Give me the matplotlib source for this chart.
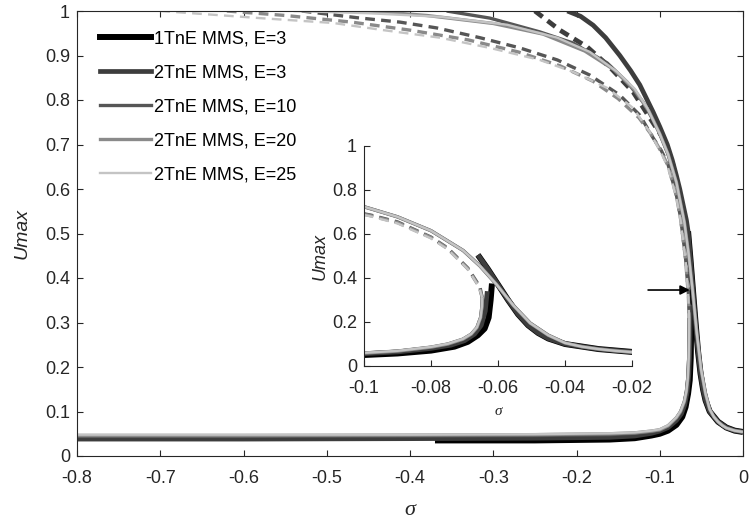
import matplotlib
matplotlib.use("Agg")
import matplotlib.pyplot as plt
from matplotlib.lines import Line2D

# ---- data ----
labels = ["1TnE MMS, E=3", "2TnE MMS, E=3", "2TnE MMS, E=10",
          "2TnE MMS, E=20", "2TnE MMS, E=25"]

# lower stable branch
lo_sig_1t = [-0.37, -0.25, -0.16, -0.13, -0.11, -0.1, -0.09, -0.08, -0.073,
             -0.069, -0.066, -0.064, -0.0628, -0.0622, -0.0618]
lo_u_1t = [0.035, 0.035, 0.037, 0.040, 0.046, 0.050, 0.057, 0.070, 0.088,
           0.110, 0.140, 0.170, 0.220, 0.300, 0.375]
lo_sig_e3 = [-0.8, -0.6, -0.4, -0.25, -0.16, -0.13, -0.11, -0.1, -0.09, -0.08,
             -0.074, -0.07, -0.067, -0.065, -0.0638, -0.0632]
lo_u_e3 = [0.038, 0.038, 0.039, 0.040, 0.042, 0.045, 0.051, 0.056, 0.064, 0.080,
           0.095, 0.115, 0.145, 0.185, 0.250, 0.340]
lo_sig = [-0.8, -0.6, -0.4, -0.25, -0.16, -0.13, -0.11, -0.1, -0.09, -0.08,
          -0.075, -0.0705, -0.068, -0.0663, -0.0652, -0.0648, -0.0647]
lo_u_e10 = [0.044, 0.044, 0.045, 0.046, 0.048, 0.051, 0.055, 0.058, 0.067, 0.085,
            0.099, 0.121, 0.144, 0.174, 0.220, 0.270, 0.310]
lo_u_e20 = [0.046, 0.046, 0.047, 0.048, 0.050, 0.052, 0.056, 0.059, 0.068, 0.086,
            0.100, 0.122, 0.145, 0.175, 0.220, 0.270, 0.310]
lo_u_e25 = [0.048, 0.048, 0.048, 0.049, 0.051, 0.053, 0.057, 0.060, 0.069, 0.087,
            0.101, 0.123, 0.146, 0.176, 0.221, 0.271, 0.310]

# unstable branch (dashed)
un_sig_e3 = [-0.25, -0.22, -0.187, -0.16, -0.132, -0.112, -0.096, -0.084, -0.078,
             -0.073, -0.069, -0.066, -0.064, -0.0625]
un_u_e3 = [1.0, 0.957, 0.919, 0.874, 0.818, 0.760, 0.714, 0.654, 0.595,
           0.540, 0.480, 0.430, 0.400, 0.375]
un_sig_e10 = [-0.53, -0.464, -0.412, -0.368, -0.316, -0.268, -0.223, -0.184, -0.148,
              -0.124, -0.108, -0.098, -0.09, -0.08, -0.075, -0.069, -0.0654, -0.0647]
un_u_e10 = [1.0, 0.985, 0.975, 0.962, 0.940, 0.917, 0.890, 0.856, 0.811,
            0.766, 0.715, 0.686, 0.655, 0.586, 0.536, 0.445, 0.360, 0.310]
un_sig_e20 = [-0.62, -0.55, -0.47, -0.40, -0.33, -0.27, -0.22, -0.18, -0.15,
              -0.125, -0.11, -0.098, -0.09, -0.08, -0.075, -0.069, -0.0656, -0.0647]
un_u_e20 = [1.0, 0.990, 0.975, 0.957, 0.935, 0.908, 0.877, 0.842, 0.803,
            0.760, 0.722, 0.683, 0.652, 0.584, 0.533, 0.442, 0.360, 0.310]
un_sig_e25 = [-0.70, -0.632, -0.58, -0.492, -0.432, -0.364, -0.304, -0.244, -0.204,
              -0.163, -0.132, -0.112, -0.098, -0.09, -0.08, -0.075, -0.069, -0.0657,
              -0.0647]
un_u_e25 = [1.0, 0.991, 0.984, 0.973, 0.957, 0.940, 0.917, 0.890, 0.863,
            0.827, 0.782, 0.728, 0.680, 0.648, 0.580, 0.530, 0.440, 0.360, 0.310]

# upper stable branch (solid), top part
up_sig_e3 = [-0.211, -0.195, -0.18, -0.165, -0.148, -0.135, -0.124, -0.108, -0.1,
             -0.091, -0.085, -0.08, -0.076, -0.072, -0.068]
up_u_e3 = [1.0, 0.988, 0.968, 0.940, 0.900, 0.866, 0.834, 0.773, 0.740,
           0.700, 0.665, 0.630, 0.600, 0.565, 0.530]
up_sig_e10 = [-0.356, -0.304, -0.244, -0.204, -0.163, -0.139, -0.12, -0.108]
up_u_e10 = [1.0, 0.984, 0.953, 0.928, 0.883, 0.840, 0.795, 0.755]
up_sig_e20 = [-0.45, -0.38, -0.30, -0.24, -0.19, -0.155, -0.13, -0.113]
up_u_e20 = [1.0, 0.990, 0.972, 0.948, 0.910, 0.868, 0.822, 0.775]
up_sig_e25 = [-0.54, -0.45, -0.364, -0.283, -0.223, -0.184, -0.151, -0.13, -0.115]
up_u_e25 = [1.0, 0.995, 0.987, 0.969, 0.940, 0.908, 0.863, 0.825, 0.782]

# peak and right-hand tail
tail_sig_e3 = [-0.066, -0.063, -0.06, -0.057, -0.054, -0.051, -0.048, -0.045,
               -0.04, -0.03, -0.02, -0.01, 0.0]
tail_u_e3 = [0.505, 0.440, 0.370, 0.300, 0.235, 0.185, 0.150, 0.125,
             0.100, 0.077, 0.064, 0.057, 0.054]
pk_sig = [-0.1, -0.09, -0.08, -0.0704, -0.0654, -0.0604, -0.0554, -0.0504, -0.045,
          -0.04, -0.035, -0.03, -0.025, -0.02, -0.01, 0.0]
pk_u = [0.724, 0.678, 0.615, 0.525, 0.455, 0.370, 0.275, 0.195, 0.140,
        0.105, 0.088, 0.077, 0.069, 0.063, 0.057, 0.054]

arrow_from = (-0.114, 0.373)
arrow_to = (-0.064, 0.373)

# ---- styles ----
colors = ["#000000", "#3d3d3d", "#565656", "#8a8a8a", "#c4c4c4"]
widths = [4.3, 3.4, 2.4, 2.4, 1.7]
axc = "#262626"

plt.rcParams["font.family"] = ["Liberation Sans", "DejaVu Sans"]
plt.rcParams["lines.scale_dashes"] = False
dash = (0, (7, 4.5))

series = [
    # lower, unstable, upper (top + peak/tail)
    ((lo_sig_1t, lo_u_1t), None, (tail_sig_e3, tail_u_e3)),
    ((lo_sig_e3, lo_u_e3), (un_sig_e3, un_u_e3),
     (up_sig_e3 + tail_sig_e3, up_u_e3 + tail_u_e3)),
    ((lo_sig, lo_u_e10), (un_sig_e10, un_u_e10),
     (up_sig_e10 + pk_sig, up_u_e10 + pk_u)),
    ((lo_sig, lo_u_e20), (un_sig_e20, un_u_e20),
     (up_sig_e20 + pk_sig, up_u_e20 + pk_u)),
    ((lo_sig, lo_u_e25), (un_sig_e25, un_u_e25),
     (up_sig_e25 + pk_sig, up_u_e25 + pk_u)),
]


def draw(ax, inset=False):
    for i, (lo, un, up) in enumerate(series):
        c, w = colors[i], widths[i]
        ax.plot(lo[0], lo[1], color=c, lw=w, solid_capstyle="butt")
        # in the inset the E=3 curves show only their lower part
        if un is not None and not (inset and i < 2):
            ax.plot(un[0], un[1], color=c, lw=w, linestyle=dash)
        s, u = up
        if inset and i < 2:
            s = [a for a, b in zip(up[0], up[1]) if b <= 0.51]
            u = [b for b in up[1] if b <= 0.51]
        ax.plot(s, u, color=c, lw=w, solid_capstyle="butt")


def style(ax, size, xpad):
    for sp in ax.spines.values():
        sp.set_color(axc)
        sp.set_linewidth(0.8)
    ax.tick_params(direction="in", length=4, width=0.8, color=axc,
                   labelcolor=axc, labelsize=size, pad=5)
    ax.tick_params(axis="x", pad=xpad)


fig = plt.figure(figsize=(7.51, 5.19), dpi=100)
ax = fig.add_axes([77 / 751, 1 - 456 / 519, 666 / 751, 445 / 519])
draw(ax)
ax.set_xlim(-0.8, 0)
ax.set_ylim(0, 1)
ax.set_xticks([-0.8, -0.7, -0.6, -0.5, -0.4, -0.3, -0.2, -0.1, 0])
ax.set_xticklabels(["-0.8", "-0.7", "-0.6", "-0.5", "-0.4", "-0.3", "-0.2", "-0.1", "0"])
ax.set_yticks([0, 0.1, 0.2, 0.3, 0.4, 0.5, 0.6, 0.7, 0.8, 0.9, 1])
ax.set_yticklabels(["0", "0.1", "0.2", "0.3", "0.4", "0.5", "0.6", "0.7", "0.8", "0.9", "1"])
style(ax, 13, 10)
ax.tick_params(top=True, right=True)
ax.set_ylabel("Umax", fontsize=14, style="italic", color=axc, labelpad=10)
ax.set_xlabel("σ", fontsize=16, style="italic", color=axc,
              family=["Liberation Serif", "DejaVu Serif"], labelpad=10)
ax.annotate("", xy=arrow_to, xytext=arrow_from,
            arrowprops=dict(arrowstyle="-|>", color="k", lw=1.2,
                            mutation_scale=14, shrinkA=0, shrinkB=0))

handles = [Line2D([0], [0], color=colors[i], lw=widths[i]) for i in range(5)]
ax.legend(handles, labels, loc="upper left", frameon=False, fontsize=13,
          bbox_to_anchor=(100 / 751, 489 / 519), bbox_transform=fig.transFigure,
          borderpad=0, borderaxespad=0, handlelength=2.8, handletextpad=0.2,
          labelspacing=0.95)

# inset
axi = fig.add_axes([364 / 751, 1 - 366 / 519, 268 / 751, 220 / 519])
draw(axi, inset=True)
axi.set_xlim(-0.1, -0.02)
axi.set_ylim(0, 1)
axi.set_xticks([-0.1, -0.08, -0.06, -0.04, -0.02])
axi.set_xticklabels(["-0.1", "-0.08", "-0.06", "-0.04", "-0.02"])
axi.set_yticks([0, 0.2, 0.4, 0.6, 0.8, 1])
axi.set_yticklabels(["0", "0.2", "0.4", "0.6", "0.8", "1"])
axi.spines["top"].set_visible(False)
axi.spines["right"].set_visible(False)
style(axi, 13, 10)
axi.set_ylabel("Umax", fontsize=13, style="italic", color=axc, labelpad=2)
axi.set_xlabel("σ", fontsize=11, style="italic", color=axc,
               family=["Liberation Serif", "DejaVu Serif"], labelpad=6)

fig.savefig("out.png", dpi=100)
